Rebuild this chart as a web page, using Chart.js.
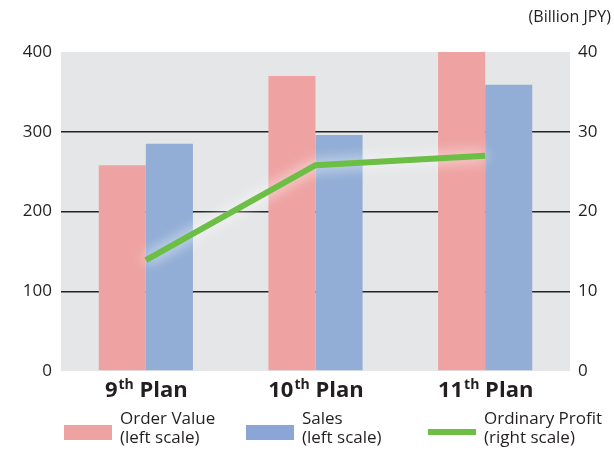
<!DOCTYPE html>
<html>
<head>
<meta charset="utf-8">
<script src="https://cdn.jsdelivr.net/npm/chart.js@4/dist/chart.umd.min.js"></script>
<style>
  html, body { margin: 0; padding: 0; background: #fff; }
  #wrap { width: 614px; height: 455px; position: relative; }
</style>
</head>
<body>
<div id="wrap"><canvas id="c"></canvas></div>
<script>
// data
var planNums = ["9", "10", "11"];
var planSuffix = "th";
var planWord = " Plan";
var orderValue = [258, 370, 400];
var sales = [285, 296, 359];
var ordinaryProfit = [13.9, 25.8, 27.0];
var leftTicks = [0, 100, 200, 300, 400];
var rightTicks = [0, 10, 20, 30, 40];

var FONT = "'Open Sans', 'Noto Sans', sans-serif";
var TXT = '#231f20';

var bgPlugin = {
    id: 'plotBg',
    beforeDraw: function (chart) {
        var a = chart.chartArea, ctx = chart.ctx;
        ctx.save();
        ctx.fillStyle = '#e5e6e8';
        ctx.fillRect(a.left, a.top, a.right - a.left, a.bottom - a.top);
        ctx.restore();
    }
};

var glowPlugin = {
    id: 'lineGlow',
    beforeDatasetDraw: function (chart, args) {
        if (args.index !== 2) return;
        var ctx = chart.ctx;
        ctx.save();
        ctx.shadowColor = 'rgba(255,255,255,0.95)';
        ctx.shadowBlur = 14;
    },
    afterDatasetDraw: function (chart, args) {
        if (args.index !== 2) return;
        chart.ctx.restore();
    }
};

var textPlugin = {
    id: 'extraText',
    afterDraw: function (chart) {
        var ctx = chart.ctx, x = chart.scales.x;
        ctx.save();
        ctx.fillStyle = TXT;
        ctx.textBaseline = 'alphabetic';

        // unit
        ctx.font = '16px ' + FONT;
        ctx.textAlign = 'right';
        ctx.fillText('(Billion JPY)', 611, 22);

        // category labels with superscript
        ctx.textAlign = 'left';
        planNums.forEach(function (n, i) {
            var big = 'bold 22px ' + FONT, small = 'bold 14px ' + FONT;
            ctx.font = big; var w1 = ctx.measureText(n).width;
            ctx.font = small; var w2 = ctx.measureText(planSuffix).width;
            ctx.font = big; var w3 = ctx.measureText(planWord).width;
            var cx = x.getPixelForValue(i);
            var sx = cx - (w1 + w2 + w3) / 2, base = 397;
            ctx.font = big; ctx.fillText(n, sx, base);
            ctx.font = small; ctx.fillText(planSuffix, sx + w1 + 1, base - 8);
            ctx.font = big; ctx.fillText(planWord, sx + w1 + w2 + 1, base);
        });

        // legend
        var items = [
            { x: 64, color: '#eea3a2', type: 'box', l1: 'Order Value', l2: '(left scale)' },
            { x: 246, color: '#8ba6d6', type: 'box', l1: 'Sales', l2: '(left scale)' },
            { x: 428, color: '#6cbe45', type: 'line', l1: 'Ordinary Profit', l2: '(right scale)' }
        ];
        items.forEach(function (it) {
            ctx.fillStyle = it.color;
            if (it.type === 'box') ctx.fillRect(it.x, 425, 48, 15);
            else ctx.fillRect(it.x, 429, 48, 6);
            ctx.fillStyle = TXT;
            ctx.font = '17px ' + FONT;
            ctx.fillText(it.l1, it.x + 56, 424);
            ctx.fillText(it.l2, it.x + 56, 443);
        });
        ctx.restore();
    }
};

new Chart(document.getElementById('c'), {
    type: 'bar',
    data: {
        labels: planNums.map(function (n) { return n + planSuffix + planWord; }),
        datasets: [{
            label: 'Order Value (left scale)',
            data: orderValue,
            backgroundColor: '#eea3a2',
            yAxisID: 'y',
            order: 2,
            categoryPercentage: 0.555,
            barPercentage: 1
        }, {
            label: 'Sales (left scale)',
            data: sales,
            backgroundColor: '#92aed6',
            yAxisID: 'y',
            order: 2,
            categoryPercentage: 0.555,
            barPercentage: 1
        }, {
            type: 'line',
            label: 'Ordinary Profit (right scale)',
            data: ordinaryProfit,
            borderColor: '#6cbe45',
            borderWidth: 6,
            pointRadius: 0,
            tension: 0,
            yAxisID: 'y1',
            order: 0
        }]
    },
    options: {
        responsive: true,
        maintainAspectRatio: false,
        animation: false,
        layout: { padding: { top: 52, left: 0, right: 0, bottom: 0 } },
        scales: {
            x: {
                grid: { display: false },
                border: { display: false },
                ticks: { display: false },
                afterFit: function (s) { s.height = 84; }
            },
            y: {
                position: 'left',
                min: 0, max: 400,
                afterBuildTicks: function (s) { s.ticks = leftTicks.map(function (v) { return { value: v }; }); },
                grid: {
                    drawTicks: false,
                    lineWidth: 1.5,
                    color: function (c) { return (c.tick && c.tick.value > 0 && c.tick.value < 400) ? '#222' : 'rgba(0,0,0,0)'; }
                },
                border: { display: false },
                ticks: { color: TXT, padding: 9, font: { family: FONT, size: 17 } },
                afterFit: function (s) { s.width = 61; }
            },
            y1: {
                position: 'right',
                min: 0, max: 40,
                afterBuildTicks: function (s) { s.ticks = rightTicks.map(function (v) { return { value: v }; }); },
                grid: { display: false, drawTicks: false },
                border: { display: false },
                ticks: { color: TXT, padding: 8, font: { family: FONT, size: 17 } },
                afterFit: function (s) { s.width = 44; }
            }
        },
        plugins: {
            legend: { display: false },
            tooltip: { enabled: false }
        }
    },
    plugins: [bgPlugin, glowPlugin, textPlugin]
});
</script>
</body>
</html>
